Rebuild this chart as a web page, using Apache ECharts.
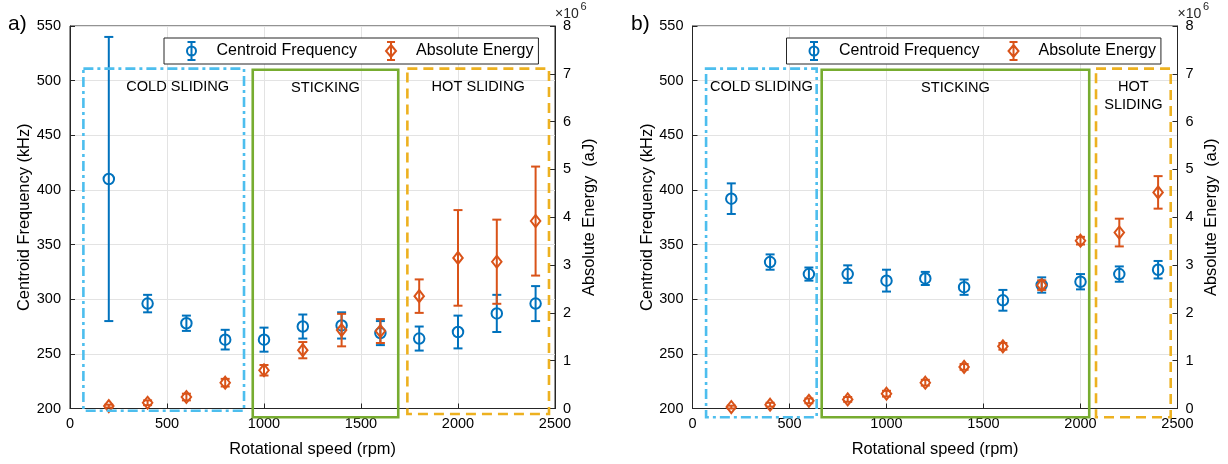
<!DOCTYPE html>
<html>
<head>
<meta charset="utf-8">
<script src="https://cdn.jsdelivr.net/npm/echarts@6/dist/echarts.min.js"></script>
<style>
html,body{margin:0;padding:0;background:#fff;}
#chart{width:1228px;height:464px;}
</style>
</head>
<body>
<div id="chart"></div>
<script>
// ---------- data ----------
const rpm = [200, 400, 600, 800, 1000, 1200, 1400, 1600, 1800, 2000, 2200, 2400];
const xTicks = [0, 500, 1000, 1500, 2000, 2500];
const freqTicks = [200, 250, 300, 350, 400, 450, 500, 550];
const energyTicks = [0, 1, 2, 3, 4, 5, 6, 7, 8];            // x 10^6 aJ

// panel a)
const cfMeanA = [410, 296, 278, 263, 263, 275, 276, 269, 264, 270, 287, 296];   // kHz
const cfErrA  = [130, 8, 7, 9, 11, 11, 12, 11, 11, 15, 17, 16];
const aeMeanA = [0.05, 0.12, 0.24, 0.54, 0.80, 1.22, 1.64, 1.62, 2.35, 3.15, 3.07, 3.92]; // x10^6 aJ
const aeErrA  = [0.03, 0.05, 0.07, 0.08, 0.11, 0.17, 0.34, 0.25, 0.35, 1.00, 0.88, 1.14];

// panel b)
const cfMeanB = [392, 334, 323, 323, 317, 319, 311, 299, 313, 316, 323, 327];
const cfErrB  = [14, 7, 6, 8, 10, 6, 7, 9.5, 7, 7, 7, 8];
const aeMeanB = [0.03, 0.08, 0.16, 0.19, 0.31, 0.54, 0.87, 1.30, 2.58, 3.51, 3.68, 4.52];
const aeErrB  = [0.03, 0.04, 0.05, 0.05, 0.06, 0.06, 0.06, 0.07, 0.10, 0.08, 0.29, 0.34];

// regime boxes (rpm / kHz): names, x start, x end, top, bottom
const regionNamesA = ['COLD SLIDING', 'STICKING', 'HOT SLIDING'];
const regionBoxesA = [[69, 897, 511, 198], [942, 1692, 510, 192], [1739, 2469, 511, 195]];
const regionNamesB = ['COLD SLIDING', 'STICKING', 'HOT\nSLIDING'];
const regionBoxesB = [[70, 640, 511, 192], [666, 2045, 510, 192], [2080, 2465, 511, 192]];

// ---------- styles ----------
const BLUE = '#0072BD', ORANGE = '#D95319';
const CYAN = '#4DBEEE', GREEN = '#77AC30', YELLOW = '#EDB120';
const AX = '#262626';
const FONT = '"Liberation Sans", Arial, Helvetica, sans-serif';

function errRender(params, api) {
  const x = api.value(0), lo = api.value(1), hi = api.value(2);
  const p1 = api.coord([x, hi]);
  const p2 = api.coord([x, lo]);
  const hw = 4.5;
  const st = {stroke: api.visual('color'), lineWidth: 2, fill: null};
  return {type: 'group', children: [
    {type: 'line', shape: {x1: p1[0], y1: p1[1], x2: p2[0], y2: p2[1]}, style: st},
    {type: 'line', shape: {x1: p1[0] - hw, y1: p1[1], x2: p1[0] + hw, y2: p1[1]}, style: st},
    {type: 'line', shape: {x1: p2[0] - hw, y1: p2[1], x2: p2[0] + hw, y2: p2[1]}, style: st}
  ]};
}

function errData(mean, err) { return rpm.map((x, i) => [x, mean[i] - err[i], mean[i] + err[i]]); }
function ptData(mean) { return rpm.map((x, i) => [x, mean[i]]); }

const boxStyles = [
  {color: CYAN, dash: [10, 4, 3, 4]},
  {color: GREEN, dash: null},
  {color: YELLOW, dash: [10, 6]}
];

function makeRegionRender(names, panel) {
  return function (params, api) {
    const i = params.dataIndex;
    const p0 = api.coord([api.value(0), api.value(2)]);
    const p1 = api.coord([api.value(1), api.value(3)]);
    const bs = boxStyles[i];
    let cx = (p0[0] + p1[0]) / 2;
    if (panel === 'a' && i === 0) cx += 14;
    return {type: 'group', children: [
      {type: 'rect', shape: {x: p0[0], y: p0[1], width: p1[0] - p0[0], height: p1[1] - p0[1]},
       style: {fill: null, stroke: bs.color, lineWidth: 2.6, lineDash: bs.dash}},
      {type: 'text', x: cx, y: p0[1] + 9,
       style: {text: names[i], textAlign: 'center', textVerticalAlign: 'top', fill: '#000',
               fontSize: 14.6, fontFamily: FONT, lineHeight: 18.5, align: 'center', verticalAlign: 'top'}}
    ]};
  };
}

function xAxisCfg(g) {
  return {
    type: 'value', gridIndex: g, min: 0, max: 2500, interval: 500,
    name: 'Rotational speed (rpm)', nameLocation: 'middle', nameGap: 33,
    nameTextStyle: {color: '#000', fontSize: 16.4, fontFamily: FONT},
    axisLine: {show: true, onZero: false, lineStyle: {color: AX, width: 1}},
    axisTick: {show: true, inside: true, length: 5, lineStyle: {color: AX}},
    axisLabel: {color: '#000', fontSize: 14.5, fontFamily: FONT, margin: 8, formatter: v => String(v)},
    splitLine: {show: true, lineStyle: {color: '#e3e3e3', width: 1}}
  };
}
function yFreqCfg(g) {
  return {
    type: 'value', gridIndex: g, position: 'left', min: 200, max: 550, interval: 50,
    name: 'Centroid Frequency (kHz)', nameLocation: 'middle', nameGap: 37, nameRotate: 90,
    nameTextStyle: {color: '#000', fontSize: 16.4, fontFamily: FONT},
    axisLine: {show: true, lineStyle: {color: AX, width: 1}},
    axisTick: {show: true, inside: true, length: 5, lineStyle: {color: AX}},
    axisLabel: {color: '#000', fontSize: 14.5, fontFamily: FONT, margin: 9, formatter: v => String(v)},
    splitLine: {show: true, lineStyle: {color: '#e3e3e3', width: 1}}
  };
}
function yEnergyCfg(g) {
  return {
    type: 'value', gridIndex: g, position: 'right', min: 0, max: 8, interval: 1,
    name: 'Absolute Energy  (aJ)', nameLocation: 'middle', nameGap: 26, nameRotate: 90,
    nameTextStyle: {color: '#000', fontSize: 16.4, fontFamily: FONT},
    axisLine: {show: true, lineStyle: {color: AX, width: 1}},
    axisTick: {show: true, inside: true, length: 5, lineStyle: {color: AX}},
    axisLabel: {color: '#000', fontSize: 14.5, fontFamily: FONT, margin: 8},
    splitLine: {show: false}
  };
}

const ICON_CF = 'path://M6,0 L6,18 M2,0 L10,0 M2,18 L10,18 M6,4.5 A4.5,4.5 0 1 0 6,13.5 A4.5,4.5 0 1 0 6,4.5 Z';
const ICON_AE = 'path://M6,0 L6,18 M2,0 L10,0 M2,18 L10,18 M6,3 L11,9 L6,15 L1,9 Z';

function legendCfg(left) {
  return {
    left: left, top: 38, orient: 'horizontal',
    padding: [3, 5, 3, 22], itemGap: 28, itemWidth: 12, itemHeight: 18,
    borderColor: '#262626', borderWidth: 1, backgroundColor: '#fff',
    selectedMode: false,
    textStyle: {color: '#000', fontSize: 16, fontFamily: FONT, padding: [0, 0, 0, 14]},
    data: [
      {name: 'Centroid Frequency', icon: ICON_CF, itemStyle: {color: 'rgba(0,0,0,0)', borderColor: BLUE, borderWidth: 2}},
      {name: 'Absolute Energy', icon: ICON_AE, itemStyle: {color: 'rgba(0,0,0,0)', borderColor: ORANGE, borderWidth: 2}}
    ]
  };
}

function panelSeries(xi, yL, yR, cfM, cfE, aeM, aeE, names, boxes, panel) {
  return [
    {type: 'custom', name: 'Centroid Frequency', xAxisIndex: xi, yAxisIndex: yL, renderItem: errRender,
     itemStyle: {color: BLUE}, encode: {x: 0, y: [1, 2]}, data: errData(cfM, cfE), clip: false, z: 3},
    {type: 'scatter', name: 'Centroid Frequency', xAxisIndex: xi, yAxisIndex: yL, symbol: 'circle', symbolSize: 10.5,
     itemStyle: {color: 'rgba(0,0,0,0)', borderColor: BLUE, borderWidth: 2, opacity: 1}, data: ptData(cfM), z: 3},
    {type: 'custom', name: 'Absolute Energy', xAxisIndex: xi, yAxisIndex: yR, renderItem: errRender,
     itemStyle: {color: ORANGE}, encode: {x: 0, y: [1, 2]}, data: errData(aeM, aeE), clip: false, z: 4},
    {type: 'scatter', name: 'Absolute Energy', xAxisIndex: xi, yAxisIndex: yR, symbol: 'diamond', symbolSize: [9.5, 12],
     itemStyle: {color: 'rgba(0,0,0,0)', borderColor: ORANGE, borderWidth: 2, opacity: 1}, data: ptData(aeM), z: 4},
    {type: 'custom', name: 'regions_' + panel, xAxisIndex: xi, yAxisIndex: yL, renderItem: makeRegionRender(names, panel),
     encode: {x: [0, 1], y: [2, 3]}, data: boxes, clip: false, z: 5, silent: true}
  ];
}

const chart = echarts.init(document.getElementById('chart'), null, {renderer: 'canvas'});
const option = {
  animation: false,
  backgroundColor: '#fff',
  textStyle: {fontFamily: FONT},
  grid: [
    {left: 70, top: 26, width: 485, height: 382.5, show: true, borderColor: AX, borderWidth: 1, backgroundColor: 'rgba(0,0,0,0)'},
    {left: 692.5, top: 26, width: 485, height: 382.5, show: true, borderColor: AX, borderWidth: 1, backgroundColor: 'rgba(0,0,0,0)'}
  ],
  xAxis: [xAxisCfg(0), xAxisCfg(1)],
  yAxis: [yFreqCfg(0), yEnergyCfg(0), yFreqCfg(1), yEnergyCfg(1)],
  legend: [legendCfg(164), legendCfg(786.5)],
  series: [
    ...panelSeries(0, 0, 1, cfMeanA, cfErrA, aeMeanA, aeErrA, regionNamesA, regionBoxesA, 'a'),
    ...panelSeries(1, 2, 3, cfMeanB, cfErrB, aeMeanB, aeErrB, regionNamesB, regionBoxesB, 'b')
  ],
  graphic: [
    {type: 'text', left: 8, top: 14, style: {text: 'a)', fontSize: 21, fill: '#000', fontFamily: FONT}},
    {type: 'text', left: 631, top: 14, style: {text: 'b)', fontSize: 21, fill: '#000', fontFamily: FONT}},
    {type: 'text', left: 555, top: 7, style: {text: '×10', fontSize: 14, fill: '#262626', fontFamily: FONT}},
    {type: 'text', left: 580.5, top: 1, style: {text: '6', fontSize: 11, fill: '#262626', fontFamily: FONT}},
    {type: 'text', left: 1177.5, top: 7, style: {text: '×10', fontSize: 14, fill: '#262626', fontFamily: FONT}},
    {type: 'text', left: 1203, top: 1, style: {text: '6', fontSize: 11, fill: '#262626', fontFamily: FONT}}
  ]
};
chart.setOption(option);
</script>
</body>
</html>
